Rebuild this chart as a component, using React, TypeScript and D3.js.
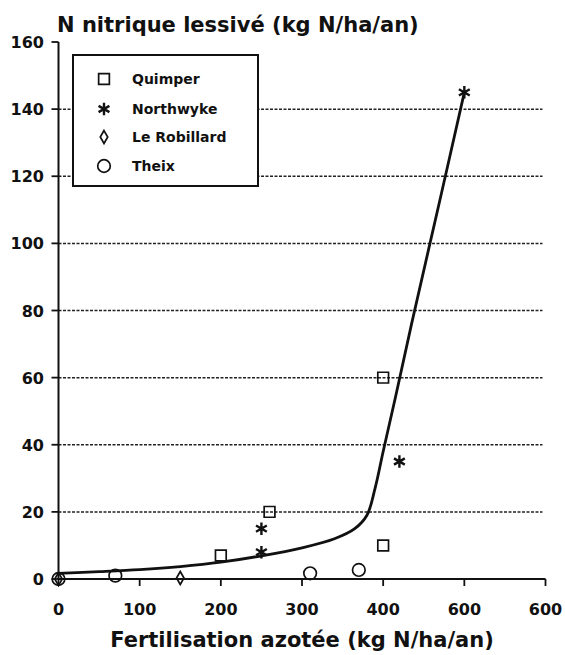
import React from "react";
import * as d3 from "d3";

// data
const xTicks = [0, 100, 200, 300, 400, 500, 600];
const xTickLabels = ["0", "100", "200", "300", "400", "600", "600"];
const yTicks = [0, 20, 40, 60, 80, 100, 120, 140, 160];
const gridValues = [20, 40, 60, 80, 100, 120, 140];

const quimperX = [200, 260, 400, 400];
const quimperY = [7, 20, 60, 10];
const northwykeX = [250, 250, 420, 500];
const northwykeY = [15, 8, 35, 145];
const robillardX = [0, 150];
const robillardY = [0, 0.3];
const theixX = [0, 70, 310, 370];
const theixY = [0, 1, 1.7, 2.7];

// fitted curve
const curveX = [0, 50, 100, 150, 200, 250, 300, 340, 365, 380, 390, 400, 415, 435, 470, 500];
const curveY = [1.7, 2.2, 2.8, 3.7, 5, 6.9, 9.3, 12, 15, 19, 27, 38, 54, 76, 113, 145];

const legendLabels = ["Quimper", "Northwyke", "Le Robillard", "Theix"];

const W = 565;
const H = 655;
const FONT = "'DejaVu Sans', sans-serif";

const Marker = ({ kind, x, y }: { kind: string; x: number; y: number }) => {
  if (kind === "square")
    return <path d={d3.symbol(d3.symbolSquare, 115)()!} transform={`translate(${x},${y})`} fill="none" stroke="#111" strokeWidth={1.7} />;
  if (kind === "star")
    return <path d={d3.symbol(d3.symbolAsterisk, 110)()!} transform={`translate(${x},${y})`} fill="none" stroke="#111" strokeWidth={2.4} />;
  if (kind === "diamond")
    return <path d={d3.symbol(d3.symbolDiamond, 48)()!} transform={`translate(${x},${y})`} fill="none" stroke="#111" strokeWidth={1.7} />;
  return <circle cx={x} cy={y} r={6.3} fill="none" stroke="#111" strokeWidth={1.7} />;
};

export default function App() {
  const x = d3.scaleLinear().domain([0, 600]).range([58.5, 545.5]);
  const y = d3.scaleLinear().domain([0, 160]).range([579, 42]);

  const line = d3
    .line<number>()
    .x((d) => x(d))
    .y((_, i) => y(curveY[i]))
    .curve(d3.curveCatmullRom.alpha(0.5));

  const series = [
    { kind: "square", xs: quimperX, ys: quimperY },
    { kind: "star", xs: northwykeX, ys: northwykeY },
    { kind: "diamond", xs: robillardX, ys: robillardY },
    { kind: "circle", xs: theixX, ys: theixY },
  ];

  return (
    <svg width={W} height={H} style={{ display: "block", position: "absolute", left: 0, top: 0, background: "white" }}>
      <rect width={W} height={H} fill="white" />

      {/* grid */}
      {gridValues.map((v) => (
        <line key={v} x1={x(0)} x2={x(600) - 3} y1={y(v)} y2={y(v)} stroke="#222" strokeWidth={1.5} strokeDasharray="3 1.5" />
      ))}

      {/* y axis */}
      <line x1={x(0)} x2={x(0)} y1={y(0)} y2={y(160)} stroke="#111" strokeWidth={2} />
      {yTicks.map((v) => (
        <g key={v}>
          <line x1={x(0) - 7} x2={x(0)} y1={y(v)} y2={y(v)} stroke="#111" strokeWidth={1.8} />
          <text x={44} y={y(v) + 6} textAnchor="end" fontFamily={FONT} fontWeight="bold" fontSize={16} fill="#111">
            {v}
          </text>
        </g>
      ))}

      {/* x axis */}
      <line x1={x(0)} x2={x(600)} y1={y(0)} y2={y(0)} stroke="#111" strokeWidth={2.2} />
      {xTicks.map((v, i) => (
        <g key={v}>
          <line x1={x(v)} x2={x(v)} y1={y(0)} y2={y(0) + 7} stroke="#111" strokeWidth={1.8} />
          <text x={x(v)} y={615} textAnchor="middle" fontFamily={FONT} fontWeight="bold" fontSize={16} fill="#111">
            {xTickLabels[i]}
          </text>
        </g>
      ))}

      {/* fitted curve */}
      <path d={line(curveX)!} fill="none" stroke="#111" strokeWidth={2.8} />

      {/* points */}
      {series.map((s) =>
        s.xs.map((xv, i) => <Marker key={s.kind + i} kind={s.kind} x={x(xv)} y={y(s.ys[i])} />)
      )}

      {/* legend */}
      <rect x={73} y={55} width={185} height={131} fill="white" stroke="#111" strokeWidth={2} />
      {legendLabels.map((lab, i) => {
        const ly = [79, 109, 137, 166][i];
        return (
          <g key={lab}>
            <Marker kind={series[i].kind} x={104} y={ly} />
            <text x={132} y={ly + 5} fontFamily={FONT} fontWeight="bold" fontSize={14} fill="#111">
              {lab}
            </text>
          </g>
        );
      })}

      {/* titles */}
      <text x={57} y={32} fontFamily={FONT} fontWeight="bold" fontSize={21} fill="#111">
        N nitrique lessivé (kg N/ha/an)
      </text>
      <text x={302} y={647} textAnchor="middle" fontFamily={FONT} fontWeight="bold" fontSize={21} fill="#111">
        Fertilisation azotée (kg N/ha/an)
      </text>
    </svg>
  );
}
